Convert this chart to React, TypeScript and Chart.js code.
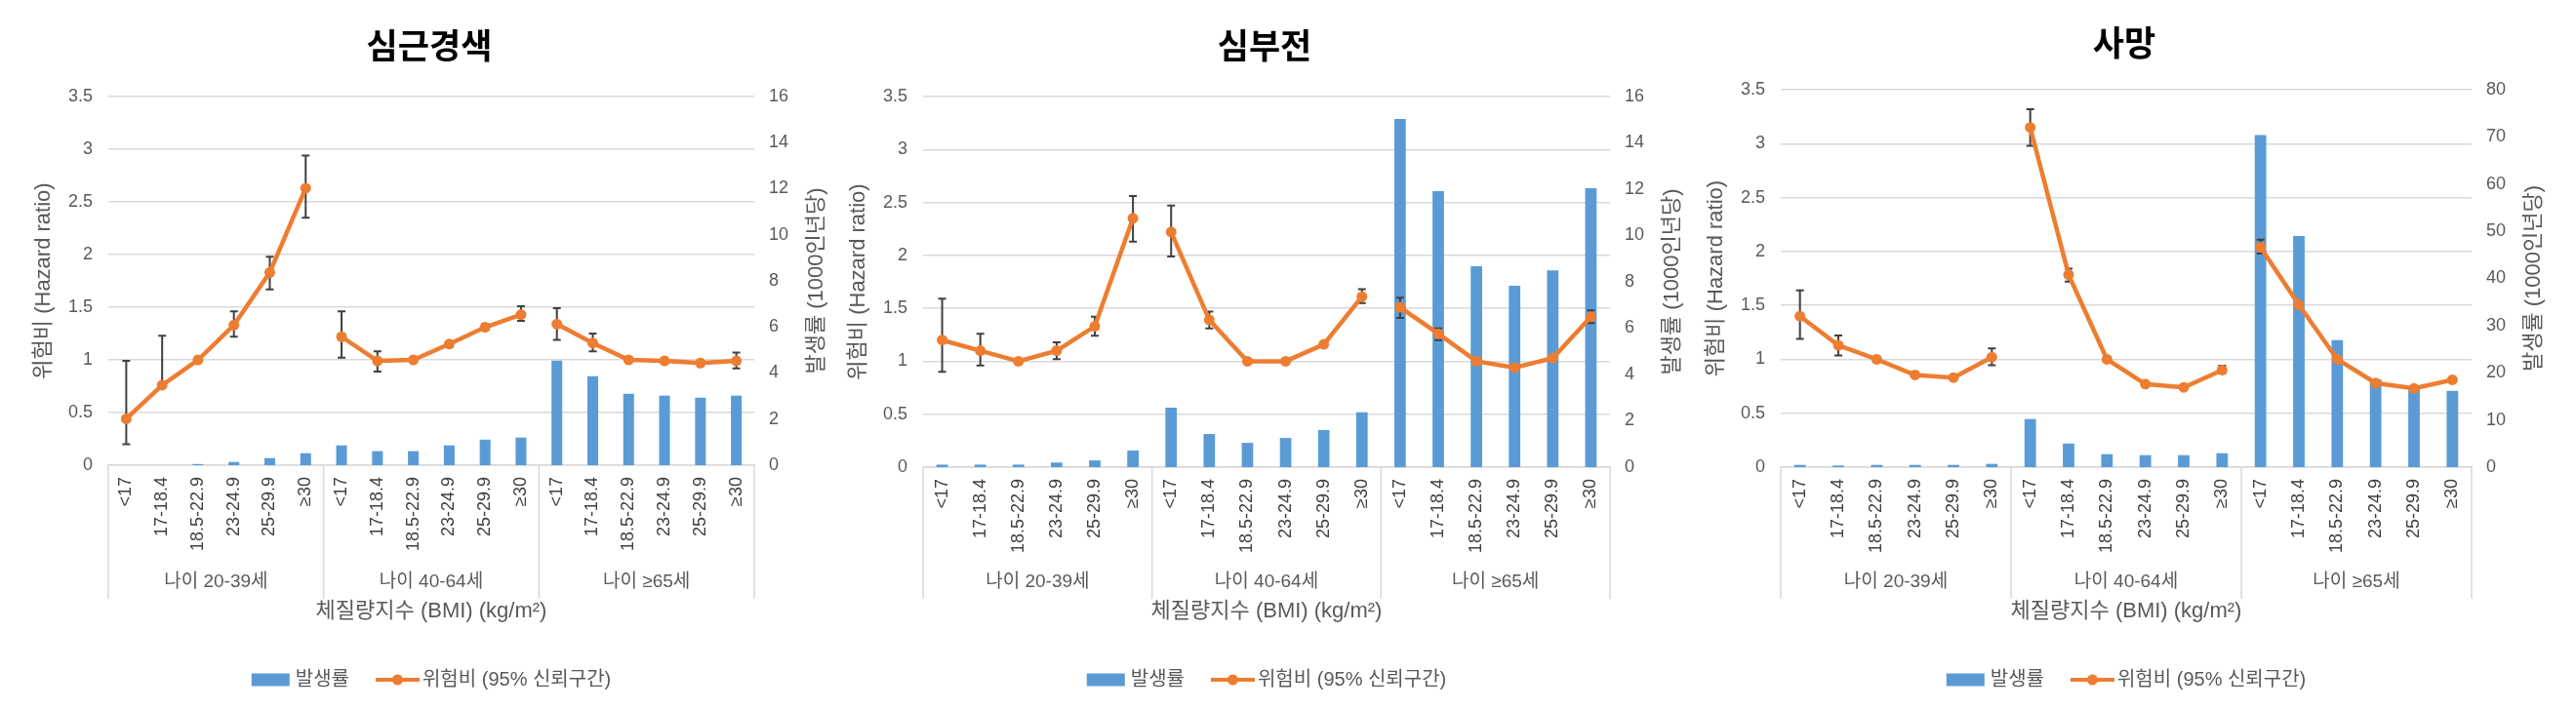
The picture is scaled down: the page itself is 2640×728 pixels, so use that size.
import React, { useEffect, useRef } from 'react';
import { Chart, registerables } from 'chart.js';

Chart.register(...registerables);

const FONT = '"Liberation Sans", Arial, "Noto Sans CJK KR", sans-serif';
const TITLE_FONT = '"Noto Sans CJK KR", "Liberation Sans", sans-serif';

// ---------- data ----------
const bmiCategories = ['<17', '17-18.4', '18.5-22.9', '23-24.9', '25-29.9', '≥30'];
const ageGroups = ['나이 20-39세', '나이 40-64세', '나이 ≥65세'];
const xLabels = [...bmiCategories, ...bmiCategories, ...bmiCategories];

const incidenceLabel = '발생률';
const hrLabel = '위험비 (95% 신뢰구간)';
const leftAxisTitle = '위험비 (Hazard ratio)';
const rightAxisTitle = '발생률 (1000인년당)';
const xAxisTitle = '체질량지수 (BMI) (kg/m²)';

// 심근경색
const miIncidence = [0, 0, 0.05, 0.14, 0.31, 0.52, 0.86, 0.61, 0.61, 0.86, 1.11, 1.2, 4.54, 3.86, 3.1, 3.02, 2.93, 3.02];
const miHR = [0.44, 0.76, 1.0, 1.33, 1.83, 2.63, 1.22, 0.99, 1.0, 1.15, 1.31, 1.43, 1.34, 1.16, 1.0, 0.99, 0.97, 0.99];
const miLower = [0.2, null, null, 1.22, 1.67, 2.35, 1.02, 0.89, null, 1.12, 1.29, 1.37, 1.19, 1.08, null, null, null, 0.92];
const miUpper = [0.99, 1.23, null, 1.46, 1.98, 2.94, 1.46, 1.08, null, 1.17, 1.34, 1.51, 1.49, 1.25, null, null, null, 1.07];

// 심부전
const hfIncidence = [0.11, 0.11, 0.11, 0.2, 0.29, 0.72, 2.57, 1.43, 1.05, 1.26, 1.6, 2.37, 15.03, 11.92, 8.67, 7.83, 8.5, 12.04];
const hfHR = [1.2, 1.1, 1.0, 1.1, 1.33, 2.35, 2.22, 1.39, 1.0, 1.0, 1.16, 1.61, 1.51, 1.26, 1.0, 0.94, 1.03, 1.42];
const hfLower = [0.9, 0.96, null, 1.02, 1.24, 2.13, 1.99, 1.31, null, null, null, 1.55, 1.41, 1.2, null, null, null, 1.36];
const hfUpper = [1.59, 1.26, null, 1.18, 1.42, 2.56, 2.47, 1.47, null, null, null, 1.68, 1.6, 1.31, null, null, null, 1.48];

// 사망
const deathIncidence = [0.48, 0.34, 0.48, 0.48, 0.48, 0.69, 10.2, 5.0, 2.75, 2.54, 2.54, 2.96, 70.4, 49.0, 26.9, 18.6, 16.7, 16.2];
const deathHR = [1.4, 1.13, 1.0, 0.855, 0.83, 1.02, 3.15, 1.785, 1.0, 0.77, 0.74, 0.9, 2.04, 1.505, 1.0, 0.78, 0.73, 0.81];
const deathLower = [1.19, 1.035, null, null, null, 0.945, 2.98, 1.72, null, null, null, 0.87, 1.98, 1.48, null, null, null, null];
const deathUpper = [1.64, 1.22, null, null, null, 1.1, 3.32, 1.84, null, null, null, 0.94, 2.11, 1.53, null, null, null, null];

const hrTicksMax = 3.5;
const hrTicksStep = 0.5;

// ---------- styles ----------
const BAR = '#5B9BD5';
const LINE = '#ED7D31';
const ERR = '#404040';
const TXT = '#595959';
const GRID = '#D9D9D9';
const H = 728;

type Panel = {
  title: string;
  canvasLeft: number;
  canvasWidth: number;
  area: { left: number; right: number; top: number; bottom: number };
  titleY: number;
  incidence: number[];
  hr: number[];
  lower: (number | null)[];
  upper: (number | null)[];
  rightMax: number;
  rightStep: number;
};

const panels: Panel[] = [
  {
    title: '심근경색', canvasLeft: 0, canvasWidth: 880,
    area: { left: 111, right: 773, top: 99, bottom: 477 }, titleY: 47,
    incidence: miIncidence, hr: miHR, lower: miLower, upper: miUpper, rightMax: 16, rightStep: 2,
  },
  {
    title: '심부전', canvasLeft: 850, canvasWidth: 910,
    area: { left: 96, right: 800, top: 99, bottom: 479 }, titleY: 47,
    incidence: hfIncidence, hr: hfHR, lower: hfLower, upper: hfUpper, rightMax: 16, rightStep: 2,
  },
  {
    title: '사망', canvasLeft: 1730, canvasWidth: 910,
    area: { left: 95, right: 803, top: 92, bottom: 479 }, titleY: 44,
    incidence: deathIncidence, hr: deathHR, lower: deathLower, upper: deathUpper, rightMax: 80, rightStep: 10,
  },
];

function rotatedText(ctx: CanvasRenderingContext2D, text: string, x: number, y: number) {
  ctx.save();
  ctx.translate(x, y);
  ctx.rotate(-Math.PI / 2);
  ctx.textAlign = 'center';
  ctx.textBaseline = 'middle';
  ctx.fillText(text, 0, 0);
  ctx.restore();
}

function makeDecor(p: Panel) {
  return {
    id: 'decor',
    afterDatasetDraw(chart: any, args: any) {
      if (args.index !== 0) return;
      const ctx: CanvasRenderingContext2D = chart.ctx;
      const xs = chart.scales.x;
      const ys = chart.scales.y;
      ctx.save();
      ctx.strokeStyle = ERR;
      ctx.lineWidth = 2;
      const cap = 4;
      p.hr.forEach((v, i) => {
        const lo = p.lower[i];
        const up = p.upper[i];
        if (lo == null && up == null) return;
        const px = xs.getPixelForValue(i);
        const yTop = ys.getPixelForValue(up ?? v);
        const yBot = ys.getPixelForValue(lo ?? v);
        ctx.beginPath();
        ctx.moveTo(px, yTop);
        ctx.lineTo(px, yBot);
        if (up != null) { ctx.moveTo(px - cap, yTop); ctx.lineTo(px + cap, yTop); }
        if (lo != null) { ctx.moveTo(px - cap, yBot); ctx.lineTo(px + cap, yBot); }
        ctx.stroke();
      });
      ctx.restore();
    },
    afterDraw(chart: any) {
      const ctx: CanvasRenderingContext2D = chart.ctx;
      const a = chart.chartArea;
      const xs = chart.scales.x;
      const cx = (a.left + a.right) / 2;
      const cy = (a.top + a.bottom) / 2;
      ctx.save();

      // title
      ctx.fillStyle = '#000';
      ctx.font = `bold 35px ${TITLE_FONT}`;
      ctx.textAlign = 'center';
      ctx.textBaseline = 'middle';
      ctx.fillText(p.title, cx - 2, p.titleY);

      // axis titles
      ctx.fillStyle = TXT;
      ctx.font = `22px ${FONT}`;
      rotatedText(ctx, leftAxisTitle, a.left - 66, cy);
      rotatedText(ctx, rightAxisTitle, a.right + 64, cy);

      // group separators
      const n = xLabels.length;
      const bounds = [0, 6, 12, 18].map((k) => {
        if (k === 0) return a.left;
        if (k === n) return a.right;
        return (xs.getPixelForValue(k - 1) + xs.getPixelForValue(k)) / 2;
      });
      ctx.strokeStyle = GRID;
      ctx.lineWidth = 1.5;
      ctx.beginPath();
      bounds.forEach((bx) => {
        ctx.moveTo(bx, a.bottom);
        ctx.lineTo(bx, 614);
      });
      ctx.stroke();

      // group labels
      ctx.fillStyle = TXT;
      ctx.font = `19px ${FONT}`;
      ctx.textAlign = 'center';
      ctx.textBaseline = 'middle';
      ageGroups.forEach((g, gi) => {
        const gx = (xs.getPixelForValue(gi * 6) + xs.getPixelForValue(gi * 6 + 5)) / 2;
        ctx.fillText(g, gx, 597);
      });

      // x axis title
      ctx.font = `22px ${FONT}`;
      ctx.fillText(xAxisTitle, cx, 627);

      // legend
      ctx.font = `20px ${FONT}`;
      const w1 = ctx.measureText(incidenceLabel).width;
      const w2 = ctx.measureText(hrLabel).width;
      const sw1 = 39, g1 = 6, g2 = 27, sw2 = 45, g3 = 3;
      const total = sw1 + g1 + w1 + g2 + sw2 + g3 + w2;
      let lx = cx - total / 2;
      const ly = 697;
      ctx.fillStyle = BAR;
      ctx.fillRect(lx, ly - 6.5, sw1, 13);
      lx += sw1 + g1;
      ctx.fillStyle = TXT;
      ctx.textAlign = 'left';
      ctx.fillText(incidenceLabel, lx, ly);
      lx += w1 + g2;
      ctx.strokeStyle = LINE;
      ctx.lineWidth = 4;
      ctx.beginPath();
      ctx.moveTo(lx, ly);
      ctx.lineTo(lx + sw2, ly);
      ctx.stroke();
      ctx.fillStyle = LINE;
      ctx.beginPath();
      ctx.arc(lx + sw2 / 2, ly, 5.5, 0, Math.PI * 2);
      ctx.fill();
      lx += sw2 + g3;
      ctx.fillStyle = TXT;
      ctx.fillText(hrLabel, lx, ly);

      ctx.restore();
    },
  };
}

const plainNumber = (v: any) => String(Number(v));

function PanelChart({ p }: { p: Panel }) {
  const ref = useRef<HTMLCanvasElement>(null);
  useEffect(() => {
    if (!ref.current) return;
    const chart = new Chart(ref.current, {
      type: 'bar',
      data: {
        labels: xLabels,
        datasets: [
          {
            type: 'bar',
            label: incidenceLabel,
            data: p.incidence,
            yAxisID: 'y1',
            backgroundColor: BAR,
            barPercentage: 0.3,
            categoryPercentage: 1,
            order: 2,
          } as any,
          {
            type: 'line',
            label: hrLabel,
            data: p.hr,
            yAxisID: 'y',
            borderColor: LINE,
            backgroundColor: LINE,
            borderWidth: 4.5,
            pointRadius: 5.5,
            pointBackgroundColor: LINE,
            pointBorderColor: LINE,
            pointBorderWidth: 0,
            tension: 0,
            order: 1,
            segment: {
              borderColor: (c: any) => (c.p0DataIndex % 6 === 5 ? 'rgba(0,0,0,0)' : LINE),
            },
          } as any,
        ],
      },
      options: {
        responsive: false,
        animation: false,
        events: [],
        layout: { padding: { top: p.area.top, left: 0, right: 0, bottom: 0 } },
        plugins: {
          legend: { display: false },
          title: { display: false },
          tooltip: { enabled: false },
        },
        scales: {
          x: {
            type: 'category',
            offset: true,
            grid: { display: false, drawTicks: false },
            border: { display: true, color: GRID, width: 1.5 },
            ticks: {
              autoSkip: false,
              minRotation: 90,
              maxRotation: 90,
              padding: 12,
              color: '#404040',
              font: { size: 18, family: FONT },
            },
            afterFit: (s: any) => { s.height = H - p.area.bottom; },
          },
          y: {
            position: 'left',
            min: 0,
            max: hrTicksMax,
            ticks: { stepSize: hrTicksStep, padding: 16, color: TXT, font: { size: 18, family: FONT }, callback: plainNumber },
            grid: { color: GRID, lineWidth: 1.5, drawTicks: false },
            border: { display: false },
            afterFit: (s: any) => { s.width = p.area.left; },
          },
          y1: {
            position: 'right',
            min: 0,
            max: p.rightMax,
            ticks: { stepSize: p.rightStep, padding: 15, color: TXT, font: { size: 18, family: FONT }, callback: plainNumber },
            grid: { display: false, drawTicks: false },
            border: { display: false },
            afterFit: (s: any) => { s.width = p.canvasWidth - p.area.right; },
          },
        },
      } as any,
      plugins: [makeDecor(p) as any],
    });
    return () => chart.destroy();
  }, [p]);
  return (
    <canvas
      ref={ref}
      width={p.canvasWidth}
      height={H}
      style={{ position: 'absolute', left: p.canvasLeft, top: 0, width: p.canvasWidth, height: H }}
    />
  );
}

export default function App() {
  return (
    <div style={{ position: 'absolute', left: 0, top: 0, width: 2640, height: H, background: '#fff', overflow: 'hidden' }}>
      {panels.map((p) => (
        <PanelChart key={p.title} p={p} />
      ))}
    </div>
  );
}
